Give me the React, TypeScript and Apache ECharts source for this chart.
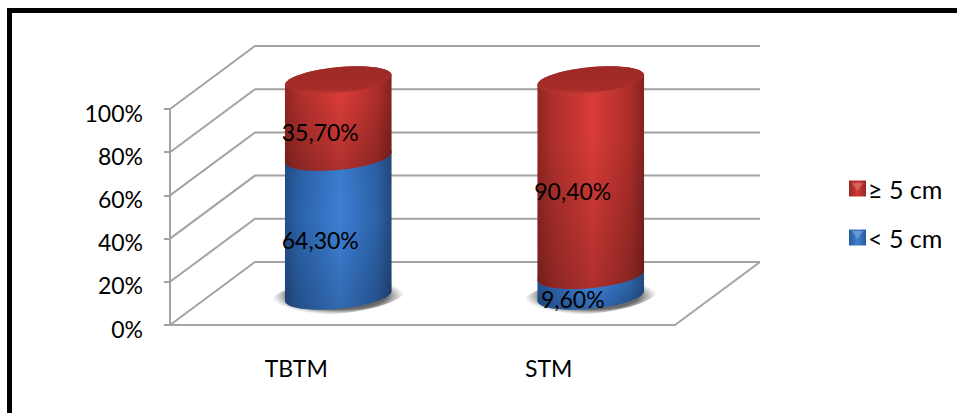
import React, { useEffect, useRef } from "react";
import * as echarts from "echarts";

const categories = ["TBTM", "STM"];
const below5 = [64.3, 9.6];
const above5 = [35.7, 90.4];
const yTicks = [0, 20, 40, 60, 80, 100];
const seriesNames = ["< 5 cm", "≥ 5 cm"];

const FONT = "Lato, Carlito, Calibri, sans-serif";
const DEPTH_X = 85;
const DEPTH_Y = 63;
const CYL_DX = 42;
const CYL_DY = 29;
const RX = 53.5;
const RY = 13;
const TILT = (5 * Math.PI) / 180;
const cosT = Math.cos(TILT);
const sinT = Math.sin(TILT);
const GRID = "#a3a3a3";

const hGrad = (c: string[]) => ({
  type: "linear", x: 0, y: 0, x2: 1, y2: 0,
  colorStops: [
    { offset: 0, color: c[0] },
    { offset: 0.14, color: c[1] },
    { offset: 0.52, color: c[2] },
    { offset: 0.86, color: c[3] },
    { offset: 1, color: c[4] },
  ],
});

// point on a tilted ellipse; t = 0 is the right end, t = PI the left end, t in (0, PI) the front (lower) half
const ePoint = (cx: number, cy: number, a: number, b: number, t: number): number[] => {
  const u = a * Math.cos(t), v = b * Math.sin(t);
  return [cx + u * cosT - v * sinT, cy - u * sinT + v * cosT];
};
const arcPoints = (cx: number, cy: number, a: number, b: number, from: number, to: number) => {
  const out: number[][] = [];
  const n = 48;
  for (let i = 0; i <= n; i++) out.push(ePoint(cx, cy, a, b, from + ((to - from) * i) / n));
  return out;
};
const bodyPoints = (cx: number, top: number, bottom: number) => [
  ...arcPoints(cx, bottom, RX, RY, Math.PI, 0),
  ...arcPoints(cx, top, RX, RY, 0, -Math.PI),
];
const label = (v: number) => v.toFixed(2).replace(".", ",") + "%";

const wallRender = (params: any, api: any) => {
  const v = api.value(0);
  const cs = params.coordSys;
  const y = api.coord([0, v])[1];
  const x0 = cs.x, x1 = cs.x + cs.width;
  const style = { stroke: GRID, lineWidth: 2, fill: "none" };
  const children: any[] = [
    { type: "polyline", shape: { points: [[x0, y], [x0 + DEPTH_X, y - DEPTH_Y], [x1 + DEPTH_X, y - DEPTH_Y]] }, style },
  ];
  if (v === 0) {
    children.push({ type: "line", shape: { x1: x1, y1: y, x2: x1 + DEPTH_X, y2: y - DEPTH_Y }, style });
  }
  return { type: "group", children };
};

const cylRender = (colors: any, isTop: boolean) => (params: any, api: any) => {
  const cat = api.value(0);
  const start = api.value(1);
  const val = api.value(2);
  const p0 = api.coord([cat, start]);
  const p1 = api.coord([cat, start + val]);
  const pm = api.coord([cat, start + val / 2]);
  const cx = p0[0] + CYL_DX;
  const by = p0[1] - CYL_DY;
  const ty = p1[1] - CYL_DY;
  const pts = bodyPoints(cx, ty, by);
  const children: any[] = [];
  if (!isTop) {
    children.push({
      type: "polygon",
      shape: { points: arcPoints(cx, by, RX + 14, RY + 5, 0, Math.PI * 2) },
      style: {
        fill: {
          type: "radial", x: 0.5, y: 0.5, r: 0.5,
          colorStops: [
            { offset: 0, color: "rgba(50,50,50,0.9)" },
            { offset: 0.72, color: "rgba(70,70,70,0.8)" },
            { offset: 1, color: "rgba(140,140,140,0)" },
          ],
        },
      },
    });
  }
  children.push({ type: "polygon", shape: { points: pts }, style: { fill: hGrad(colors.h) } });
  children.push({
    type: "polygon",
    shape: { points: pts },
    style: { fill: { type: "linear", x: 0, y: 0, x2: 0, y2: 1, colorStops: colors.v } },
  });
  if (isTop) {
    children.push({
      type: "polygon",
      shape: { points: arcPoints(cx, ty, RX, RY, 0, Math.PI * 2) },
      style: {
        fill: {
          type: "linear", x: 0, y: 0, x2: 0, y2: 1,
          colorStops: [
            { offset: 0, color: "#9c2a26" },
            { offset: 0.85, color: "#a82c28" },
            { offset: 1, color: "#c23733" },
          ],
        },
      },
    });
  }
  children.push({
    type: "text",
    z2: 10,
    style: {
      x: pm[0] + 24,
      y: pm[1] - 16,
      text: label(val),
      fill: "#000",
      font: `23px ${FONT}`,
      textAlign: "center",
      textVerticalAlign: "middle",
    },
  });
  return { type: "group", children };
};

const BLUE = {
  h: ["#234f8b", "#2c62a9", "#3d80d6", "#2c62a8", "#224a7d"],
  v: [
    { offset: 0, color: "rgba(0,0,0,0.05)" },
    { offset: 0.45, color: "rgba(0,0,0,0)" },
    { offset: 1, color: "rgba(0,0,0,0.18)" },
  ],
};
const RED = {
  h: ["#8f2622", "#ad2f2b", "#d93c38", "#ad2e2a", "#84231f"],
  v: [
    { offset: 0, color: "rgba(0,0,0,0)" },
    { offset: 0.3, color: "rgba(0,0,0,0)" },
    { offset: 1, color: "rgba(0,0,0,0.2)" },
  ],
};

const legendFill = (a: string, b: string) => ({
  type: "linear", x: 0, y: 0, x2: 1, y2: 0,
  colorStops: [
    { offset: 0, color: a },
    { offset: 0.5, color: b },
    { offset: 1, color: a },
  ],
});
const bevel = (tx: number, ty: number) => ({
  type: "polygon",
  silent: true,
  z: 100,
  shape: { points: [[tx - 6, ty], [tx + 6, ty], [tx, ty + 8]] },
  style: { fill: "rgba(255,255,255,0.22)" },
});

export default function App() {
  const ref = useRef<HTMLDivElement>(null);
  useEffect(() => {
    const chart = echarts.init(ref.current!, undefined, { renderer: "svg" });
    chart.setOption({
      animation: false,
      backgroundColor: "#fff",
      grid: { left: 170, top: 109, width: 505, height: 216 },
      xAxis: {
        type: "category",
        data: categories,
        axisLine: { lineStyle: { color: GRID, width: 2 } },
        axisTick: { length: 8, lineStyle: { color: GRID, width: 2 } },
        axisLabel: { color: "#000", fontSize: 23, fontFamily: FONT, margin: 31 },
      },
      yAxis: {
        type: "value",
        min: 0,
        max: 100,
        interval: 20,
        splitLine: { show: false },
        axisLine: { show: true, lineStyle: { color: GRID, width: 2 } },
        axisTick: { show: true, length: 6, lineStyle: { color: GRID, width: 2 } },
        axisLabel: { color: "#000", fontSize: 23, fontFamily: FONT, margin: 27, verticalAlign: "top", padding: [-8, 0, 0, 0], formatter: "{value}%" },
      },
      legend: {
        orient: "vertical",
        left: 849,
        top: 176,
        padding: 0,
        itemWidth: 17,
        itemHeight: 16,
        itemGap: 24,
        icon: "rect",
        data: [seriesNames[1], seriesNames[0]],
        textStyle: { color: "#000", fontSize: 25, fontFamily: FONT, padding: [0, 0, 0, -3] },
      },
      graphic: [
        { type: "polyline", silent: true, z: 100, shape: { points: [[9.5, 413], [9.5, 10.5], [957, 10.5]] }, style: { stroke: "#000", lineWidth: 5, fill: "none" } },
        bevel(857.5, 183),
        bevel(857.5, 231),
      ],
      series: [
        {
          type: "custom",
          silent: true,
          renderItem: wallRender,
          data: yTicks.map((v) => [v]),
          encode: { y: 0 },
          z: 1,
        },
        {
          name: seriesNames[0],
          type: "custom",
          silent: true,
          renderItem: cylRender(BLUE, false),
          data: categories.map((_, i) => [i, 0, below5[i]]),
          encode: { x: 0, y: 2 },
          itemStyle: { color: legendFill("#2a5c9e", "#3f7fd0") },
          z: 2,
        },
        {
          name: seriesNames[1],
          type: "custom",
          silent: true,
          renderItem: cylRender(RED, true),
          data: categories.map((_, i) => [i, below5[i], above5[i]]),
          encode: { x: 0, y: 2 },
          itemStyle: { color: legendFill("#9a2824", "#d03834") },
          z: 3,
        },
      ],
    });
    return () => chart.dispose();
  }, []);
  return <div ref={ref} style={{ position: "fixed", left: 0, top: 0, width: 957, height: 413 }} />;
}
